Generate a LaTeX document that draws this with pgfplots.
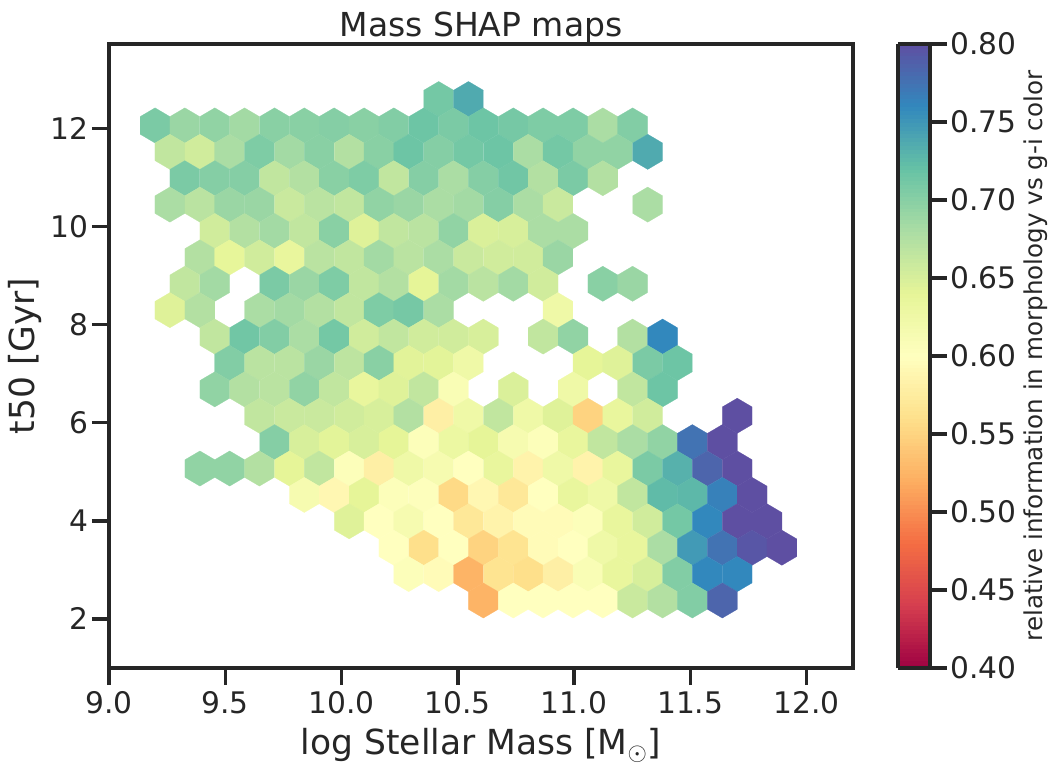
\documentclass[border=0pt]{standalone}
\usepackage{fontspec}
\setmainfont{DejaVu Sans}
\usepackage{pgfplots}
\pgfplotsset{compat=1.18}
\definecolor{darkc}{RGB}{38,38,38}
\pgfdeclareplotmark{hexb}{%
  \pgfpathmoveto{\pgfqpoint{0pt}{17.59pt}}%
  \pgfpathlineto{\pgfqpoint{14.92pt}{8.8pt}}%
  \pgfpathlineto{\pgfqpoint{14.92pt}{-8.8pt}}%
  \pgfpathlineto{\pgfqpoint{0pt}{-17.59pt}}%
  \pgfpathlineto{\pgfqpoint{-14.92pt}{-8.8pt}}%
  \pgfpathlineto{\pgfqpoint{-14.92pt}{8.8pt}}%
  \pgfpathclose
  \pgfusepathqfillstroke
}
\pgfplotsset{
  colormap={spectralmap}{rgb255=(158,1,66) rgb255=(213,62,79) rgb255=(244,109,67) rgb255=(253,174,97) rgb255=(254,224,139) rgb255=(255,255,191) rgb255=(230,245,152) rgb255=(171,221,164) rgb255=(102,194,165) rgb255=(50,136,189) rgb255=(94,79,162)},
}
\begin{document}
\begin{tikzpicture}
\useasboundingbox (-109pt,-103pt) rectangle (950pt,668pt);
\begin{axis}[
  at={(0pt,0pt)}, anchor=south west,
  scale only axis, width=744pt, height=624pt,
  xmin=9, xmax=12.2, ymin=1, ymax=13.72,
  colormap name=spectralmap,
  point meta min=0.4, point meta max=0.8,
  axis line style={line width=4pt, draw=darkc},
  tick style={line width=3.5pt, draw=darkc},
  tick align=outside, major tick length=17pt,
  xtick={9,9.5,10,10.5,11,11.5,12}, ytick={2,4,6,8,10,12},
  xtick pos=bottom, ytick pos=left,
  minor tick num=0,
  /pgf/number format/assume math mode=true,
  xticklabel style={/pgf/number format/fixed, /pgf/number format/fixed zerofill, /pgf/number format/precision=1, yshift=-3pt},
  tick label style={font=\fontsize{29.7}{32}\selectfont, text=darkc},
  title={Mass SHAP maps},
  title style={font=\fontsize{33}{37}\selectfont, text=darkc, yshift=-8.5pt},
  xlabel={log Stellar Mass [M$_\odot$]},
  ylabel={t50 [Gyr]},
  xlabel style={yshift=-7pt},
  ylabel style={yshift=2pt},
  label style={font=\fontsize{34.5}{39}\selectfont, text=darkc},
  colorbar sampled,
  colorbar style={
    samples=161,
    at={(1.0605,1)}, anchor=north west,
    scale only axis, width=32pt, height=624pt,
    ytick={0.4,0.45,0.5,0.55,0.6,0.65,0.7,0.75,0.8},
    yticklabel pos=right, ytick pos=right,
    /pgf/number format/assume math mode=true,
    yticklabel style={/pgf/number format/fixed, /pgf/number format/fixed zerofill, /pgf/number format/precision=2, font=\fontsize{29.7}{32}\selectfont, text=darkc},
    axis line style={line width=4pt, draw=darkc},
    tick style={line width=3.5pt, draw=darkc},
    tick align=outside, major tick length=17pt,
    ylabel={relative information in morphology vs g-i color},
    ylabel style={font=\fontsize{24.6}{29}\selectfont, text=darkc},
  },
]
\addplot[scatter, only marks, mark=hexb, scatter src=explicit,
  scatter/use mapped color={draw=mapped color, fill=mapped color},
  mark options={line width=0.2pt}]
table[x index=0, y index=1, meta index=2, row sep=\\, header=false] {
10.418 12.598 0.712\\ 10.546 12.598 0.737\\
9.198 12.06 0.708\\ 9.326 12.06 0.69\\ 9.455 12.06 0.695\\ 9.583 12.06 0.685\\ 9.712 12.06 0.70\\ 9.840 12.06 0.70\\ 9.968 12.06 0.702\\ 10.097 12.06 0.70\\ 10.225 12.06 0.704\\ 10.354 12.06 0.716\\ 10.482 12.06 0.708\\ 10.610 12.06 0.716\\ 10.739 12.06 0.711\\ 10.867 12.06 0.706\\ 10.996 12.06 0.706\\ 11.124 12.06 0.68\\ 11.252 12.06 0.704\\
9.262 11.522 0.665\\ 9.391 11.522 0.655\\ 9.519 11.522 0.68\\ 9.647 11.522 0.706\\ 9.776 11.522 0.685\\ 9.904 11.522 0.70\\ 10.033 11.522 0.675\\ 10.161 11.522 0.70\\ 10.289 11.522 0.716\\ 10.418 11.522 0.702\\ 10.546 11.522 0.712\\ 10.675 11.522 0.716\\ 10.803 11.522 0.68\\ 10.931 11.522 0.712\\ 11.060 11.522 0.695\\ 11.188 11.522 0.695\\ 11.317 11.522 0.737\\
9.326 10.984 0.708\\ 9.455 10.984 0.702\\ 9.583 10.984 0.702\\ 9.712 10.984 0.665\\ 9.840 10.984 0.675\\ 9.968 10.984 0.70\\ 10.097 10.984 0.706\\ 10.225 10.984 0.665\\ 10.354 10.984 0.702\\ 10.482 10.984 0.68\\ 10.610 10.984 0.702\\ 10.739 10.984 0.714\\ 10.867 10.984 0.675\\ 10.996 10.984 0.708\\ 11.124 10.984 0.675\\
9.262 10.446 0.68\\ 9.391 10.446 0.67\\ 9.519 10.446 0.69\\ 9.647 10.446 0.69\\ 9.776 10.446 0.66\\ 9.904 10.446 0.67\\ 10.033 10.446 0.665\\ 10.161 10.446 0.695\\ 10.289 10.446 0.69\\ 10.418 10.446 0.68\\ 10.546 10.446 0.685\\ 10.675 10.446 0.702\\ 10.803 10.446 0.68\\ 10.931 10.446 0.66\\ 11.317 10.446 0.68\\
9.455 9.908 0.655\\ 9.583 9.908 0.675\\ 9.712 9.908 0.685\\ 9.840 9.908 0.665\\ 9.968 9.908 0.70\\ 10.097 9.908 0.645\\ 10.225 9.908 0.665\\ 10.354 9.908 0.67\\ 10.482 9.908 0.695\\ 10.610 9.908 0.648\\ 10.739 9.908 0.65\\ 10.867 9.908 0.68\\ 10.996 9.908 0.68\\
9.391 9.37 0.675\\ 9.519 9.37 0.638\\ 9.647 9.37 0.655\\ 9.776 9.37 0.635\\ 9.904 9.37 0.67\\ 10.033 9.37 0.665\\ 10.161 9.37 0.685\\ 10.289 9.37 0.67\\ 10.418 9.37 0.68\\ 10.546 9.37 0.66\\ 10.675 9.37 0.655\\ 10.803 9.37 0.655\\ 10.931 9.37 0.69\\
9.326 8.832 0.665\\ 9.455 8.832 0.685\\ 9.712 8.832 0.708\\ 9.840 8.832 0.69\\ 9.968 8.832 0.706\\ 10.097 8.832 0.665\\ 10.225 8.832 0.675\\ 10.354 8.832 0.64\\ 10.482 8.832 0.685\\ 10.610 8.832 0.67\\ 10.739 8.832 0.685\\ 10.867 8.832 0.655\\ 11.124 8.832 0.70\\ 11.252 8.832 0.69\\
9.262 8.294 0.645\\ 9.391 8.294 0.675\\ 9.647 8.294 0.68\\ 9.776 8.294 0.685\\ 9.904 8.294 0.675\\ 10.033 8.294 0.665\\ 10.161 8.294 0.706\\ 10.289 8.294 0.711\\ 10.418 8.294 0.68\\ 10.931 8.294 0.625\\
9.455 7.756 0.665\\ 9.583 7.756 0.714\\ 9.712 7.756 0.704\\ 9.840 7.756 0.68\\ 9.968 7.756 0.712\\ 10.097 7.756 0.655\\ 10.225 7.756 0.665\\ 10.354 7.756 0.655\\ 10.482 7.756 0.655\\ 10.610 7.756 0.65\\ 10.867 7.756 0.665\\ 10.996 7.756 0.695\\ 11.252 7.756 0.675\\ 11.381 7.756 0.76\\
9.519 7.218 0.704\\ 9.647 7.218 0.67\\ 9.776 7.218 0.67\\ 9.904 7.218 0.69\\ 10.033 7.218 0.668\\ 10.161 7.218 0.70\\ 10.289 7.218 0.643\\ 10.418 7.218 0.642\\ 10.546 7.218 0.625\\ 11.060 7.218 0.64\\ 11.188 7.218 0.645\\ 11.317 7.218 0.708\\ 11.445 7.218 0.716\\
9.455 6.68 0.695\\ 9.583 6.68 0.675\\ 9.712 6.68 0.67\\ 9.840 6.68 0.695\\ 9.968 6.68 0.665\\ 10.097 6.68 0.635\\ 10.225 6.68 0.645\\ 10.354 6.68 0.665\\ 10.482 6.68 0.61\\ 10.739 6.68 0.648\\ 10.996 6.68 0.625\\ 11.252 6.68 0.665\\ 11.381 6.68 0.716\\
9.647 6.142 0.665\\ 9.776 6.142 0.66\\ 9.904 6.142 0.66\\ 10.033 6.142 0.655\\ 10.161 6.142 0.65\\ 10.289 6.142 0.675\\ 10.418 6.142 0.58\\ 10.546 6.142 0.625\\ 10.675 6.142 0.665\\ 10.803 6.142 0.625\\ 10.931 6.142 0.645\\ 11.060 6.142 0.55\\ 11.188 6.142 0.635\\ 11.317 6.142 0.655\\ 11.702 6.142 0.80\\
9.712 5.604 0.702\\ 9.840 5.604 0.65\\ 9.968 5.604 0.642\\ 10.097 5.604 0.65\\ 10.225 5.604 0.64\\ 10.354 5.604 0.605\\ 10.482 5.604 0.63\\ 10.610 5.604 0.64\\ 10.739 5.604 0.615\\ 10.867 5.604 0.605\\ 10.996 5.604 0.635\\ 11.124 5.604 0.665\\ 11.252 5.604 0.68\\ 11.381 5.604 0.695\\ 11.509 5.604 0.775\\ 11.638 5.604 0.80\\
9.391 5.066 0.695\\ 9.519 5.066 0.695\\ 9.647 5.066 0.675\\ 9.776 5.066 0.64\\ 9.904 5.066 0.665\\ 10.033 5.066 0.605\\ 10.161 5.066 0.58\\ 10.289 5.066 0.625\\ 10.418 5.066 0.615\\ 10.546 5.066 0.60\\ 10.675 5.066 0.635\\ 10.803 5.066 0.585\\ 10.931 5.066 0.625\\ 11.060 5.066 0.585\\ 11.188 5.066 0.635\\ 11.317 5.066 0.708\\ 11.445 5.066 0.732\\ 11.573 5.066 0.785\\ 11.702 5.066 0.80\\
9.840 4.528 0.615\\ 9.968 4.528 0.59\\ 10.097 4.528 0.64\\ 10.225 4.528 0.605\\ 10.354 4.528 0.603\\ 10.482 4.528 0.555\\ 10.610 4.528 0.59\\ 10.739 4.528 0.57\\ 10.867 4.528 0.60\\ 10.996 4.528 0.635\\ 11.124 4.528 0.625\\ 11.252 4.528 0.665\\ 11.381 4.528 0.725\\ 11.509 4.528 0.727\\ 11.638 4.528 0.765\\ 11.766 4.528 0.80\\
10.033 3.99 0.645\\ 10.161 3.99 0.60\\ 10.289 3.99 0.615\\ 10.418 3.99 0.60\\ 10.546 3.99 0.57\\ 10.675 3.99 0.585\\ 10.803 3.99 0.595\\ 10.931 3.99 0.595\\ 11.060 3.99 0.605\\ 11.188 3.99 0.635\\ 11.317 3.99 0.655\\ 11.445 3.99 0.712\\ 11.573 3.99 0.76\\ 11.702 3.99 0.80\\ 11.830 3.99 0.80\\
10.225 3.452 0.60\\ 10.354 3.452 0.56\\ 10.482 3.452 0.60\\ 10.610 3.452 0.55\\ 10.739 3.452 0.565\\ 10.867 3.452 0.595\\ 10.996 3.452 0.60\\ 11.124 3.452 0.625\\ 11.252 3.452 0.635\\ 11.381 3.452 0.68\\ 11.509 3.452 0.748\\ 11.638 3.452 0.775\\ 11.766 3.452 0.795\\ 11.894 3.452 0.80\\
10.289 2.914 0.605\\ 10.418 2.914 0.595\\ 10.546 2.914 0.525\\ 10.675 2.914 0.565\\ 10.803 2.914 0.56\\ 10.931 2.914 0.58\\ 11.060 2.914 0.61\\ 11.188 2.914 0.635\\ 11.317 2.914 0.65\\ 11.445 2.914 0.704\\ 11.573 2.914 0.76\\ 11.702 2.914 0.76\\
10.610 2.376 0.525\\ 10.739 2.376 0.60\\ 10.867 2.376 0.60\\ 10.996 2.376 0.60\\ 11.124 2.376 0.60\\ 11.252 2.376 0.66\\ 11.381 2.376 0.675\\ 11.509 2.376 0.704\\ 11.638 2.376 0.785\\
};
\end{axis}
\end{tikzpicture}
\end{document}
